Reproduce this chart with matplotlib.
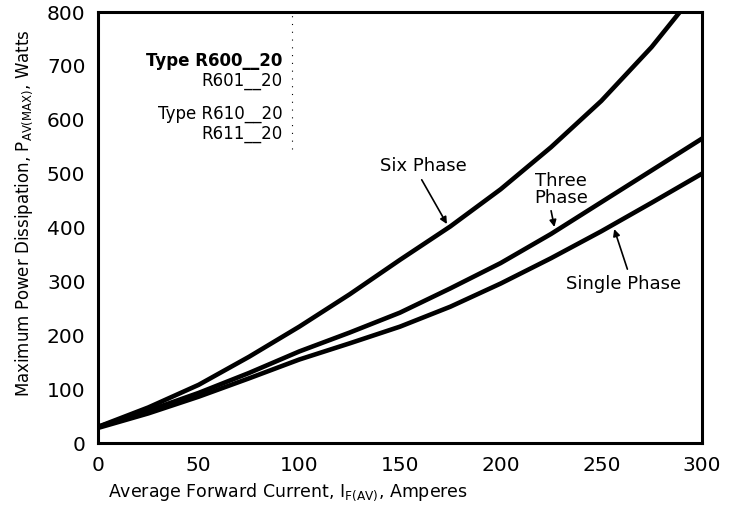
import matplotlib.pyplot as plt
import numpy as np

plt.rcParams['font.family'] = ['DejaVu Sans']

# values (Amperes -> Watts)
six_x = [0, 25, 50, 75, 100, 125, 150, 175, 200, 225, 250, 275, 289]
six_y = [30, 66, 108, 160, 216, 276, 340, 402, 471, 549, 635, 735, 800]

three_x = [0, 25, 50, 75, 100, 125, 150, 175, 200, 225, 250, 275, 300]
three_y = [30, 60, 93, 130, 170, 205, 242, 287, 334, 388, 447, 506, 565]

single_x = [0, 25, 50, 75, 100, 125, 150, 175, 200, 225, 250, 275, 300]
single_y = [28, 55, 86, 120, 155, 185, 216, 253, 296, 343, 393, 446, 500]

xticks = [0, 50, 100, 150, 200, 250, 300]
yticks = [0, 100, 200, 300, 400, 500, 600, 700, 800]

fig = plt.figure(figsize=(7.35, 5.07), dpi=100)
ax = fig.add_axes([0.1333, 0.1262, 0.8217, 0.8500])

for xs, ys in [(six_x, six_y), (three_x, three_y), (single_x, single_y)]:
    ax.plot(xs, ys, color='black', lw=3.3, solid_joinstyle='round')

ax.set_xlim(0, 300)
ax.set_ylim(0, 800)
ax.set_xticks(xticks)
ax.set_yticks(yticks)
ax.tick_params(length=0, labelsize=14.5, pad=9)
for s in ax.spines.values():
    s.set_linewidth(2.2)

ax.set_xlabel(r'Average Forward Current, $\mathregular{I_{F(AV)}}$, Amperes',
              fontsize=12.5, labelpad=8)
ax.xaxis.set_label_coords(0.315, -0.088)
ax.set_ylabel(r'Maximum Power Dissipation, $\mathregular{P_{AV(MAX)}}$, Watts',
              fontsize=12, labelpad=8)
ax.yaxis.set_label_coords(-0.105, 0.534)

# type labels
ax.text(91.5, 709, 'Type R600__20', ha='right', va='center', fontsize=12, fontweight='bold')
ax.text(91.5, 672, 'R601__20', ha='right', va='center', fontsize=12)
ax.text(91.5, 610, 'Type R610__20', ha='right', va='center', fontsize=12)
ax.text(91.5, 573, 'R611__20', ha='right', va='center', fontsize=12)
ax.plot([96.4, 96.4], [545, 800], color='black', lw=0.8, ls=(0, (1, 6)))

arrow = dict(arrowstyle='-|>', color='black', lw=1.2, mutation_scale=10)
ax.annotate('Six Phase', xy=(174, 402), xytext=(161.5, 515), ha='center', va='center',
            fontsize=13, arrowprops=dict(arrow, shrinkA=2, relpos=(0.45, 0.0)))
ax.annotate('Three\nPhase', xy=(227, 396), xytext=(230, 471), ha='center', va='center',
            fontsize=13, linespacing=0.9, arrowprops=dict(arrow, shrinkA=1, relpos=(0.3, 0.0)))
ax.annotate('Single Phase', xy=(256, 402), xytext=(261, 296), ha='center', va='center',
            fontsize=13, arrowprops=dict(arrow, shrinkA=2, relpos=(0.55, 1.0)))

fig.savefig('out.png', dpi=100)
